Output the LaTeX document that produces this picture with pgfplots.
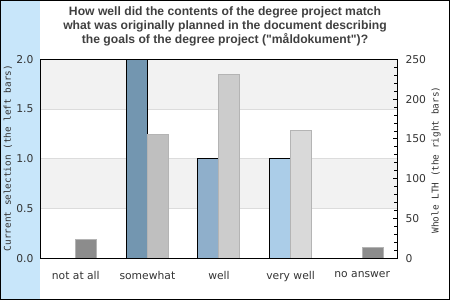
\documentclass[border=0pt]{standalone}
\usepackage{fontspec}
\usepackage{pgfplots}
\pgfplotsset{compat=1.18}
\setmainfont{DejaVu Sans}
\newfontfamily\dmono{DejaVu Sans Mono}
\newfontfamily\lsans{Liberation Sans}
\definecolor{strip}{HTML}{C8E6FA}
\definecolor{band}{HTML}{F2F2F2}
\definecolor{gridc}{HTML}{DCDCDC}
\definecolor{bA}{HTML}{7396B0}
\definecolor{bB}{HTML}{8FAFCB}
\definecolor{bC}{HTML}{ABCDE8}
\definecolor{gA}{HTML}{8C8C8C}
\definecolor{gB}{HTML}{BFBFBF}
\definecolor{gC}{HTML}{CCCCCC}
\definecolor{gD}{HTML}{D9D9D9}
\definecolor{gedge}{HTML}{B4B4B4}
\definecolor{titlec}{HTML}{404040}
\definecolor{labc}{HTML}{333333}
\begin{document}
\begin{tikzpicture}
% axis box: south west at (0,0), 358bp x 199bp; picture from (-40,-41.7) to (410,258.3)
\useasboundingbox (-40bp,-41.7bp) rectangle (410bp,258.3bp);
\fill[strip] (-40bp,-41.7bp) rectangle (0bp,258.3bp);
\draw[line width=1bp] (-39.5bp,-41.2bp) rectangle (409.5bp,257.8bp);
\node[align=center, font=\lsans\bfseries\fontsize{12.2}{14}\selectfont, text=titlec] at (185bp,231.8bp)
  {How well did the contents of the degree project match\\what was originally planned in the document describing\\the goals of the degree project ("måldokument")?};
\node[rotate=90, font=\dmono\fontsize{9.4}{11}\selectfont, text=labc] at (-32bp,100.3bp) {Current selection (the left bars)};
\node[rotate=90, font=\dmono\fontsize{9.4}{11}\selectfont, text=labc] at (396bp,98.3bp) {Whole LTH (the right bars)};
% left axis
\begin{axis}[
  at={(0bp,0bp)}, anchor=south west,
  scale only axis, width=358bp, height=199bp,
  xmin=-0.5, xmax=4.5, ymin=0, ymax=2,
  xtick={0,1,2,3,4},
  xticklabels={not at all,somewhat,well,very well,no answer},
  ytick={0,0.5,1,1.5,2},
  axis line style={draw=none},
  major tick length=0pt,
  tick style={draw=none},
  ticklabel style={font=\fontsize{10.8}{12}\selectfont, text=labc},
  xticklabel style={yshift=-10bp},
  yticklabel style={xshift=-3bp,/pgf/number format/.cd, fixed, fixed zerofill, precision=1, assume math mode=true},
  clip=false,
]
\fill[band] (axis cs:-0.5,1.5) rectangle (axis cs:4.5,2);
\fill[band] (axis cs:-0.5,0.5) rectangle (axis cs:4.5,1);
\draw[gridc, line width=1bp] (axis cs:-0.5,0.5) -- (axis cs:4.5,0.5);
\draw[gridc, line width=1bp] (axis cs:-0.5,1) -- (axis cs:4.5,1);
\draw[gridc, line width=1bp] (axis cs:-0.5,1.5) -- (axis cs:4.5,1.5);
\addplot[ybar, bar width=21bp, bar shift=-10.5bp, fill=bA, draw=black, line width=1bp] coordinates {(1,2)};
\addplot[ybar, bar width=21bp, bar shift=-10.5bp, fill=bB, draw=black, line width=1bp] coordinates {(2,1)};
\addplot[ybar, bar width=21bp, bar shift=-10.5bp, fill=bC, draw=black, line width=1bp] coordinates {(3,1)};
\end{axis}
% right axis
\begin{axis}[
  at={(0bp,0bp)}, anchor=south west,
  scale only axis, width=358bp, height=199bp,
  xmin=-0.5, xmax=4.5, ymin=0, ymax=250,
  xtick=\empty,
  ytick={0,50,100,150,200,250},
  minor ytick={10,20,30,40,60,70,80,90,110,120,130,140,160,170,180,190,210,220,230,240},
  ytick pos=right, yticklabel pos=right,
  tick align=inside,
  major tick length=5bp, minor tick length=3.5bp,
  tick style={black, line width=0.8bp},
  axis line style={black, line width=1bp},
  axis on top,
  ticklabel style={font=\fontsize{10.8}{12}\selectfont, text=labc},
  yticklabel style={xshift=4bp, /pgf/number format/assume math mode=true},
]
\addplot[ybar, bar width=21bp, bar shift=10.5bp, fill=gA, draw=gedge, line width=1bp] coordinates {(0,24)};
\addplot[ybar, bar width=21bp, bar shift=10.5bp, fill=gB, draw=gedge, line width=1bp] coordinates {(1,155)};
\addplot[ybar, bar width=21bp, bar shift=10.5bp, fill=gC, draw=gedge, line width=1bp] coordinates {(2,231)};
\addplot[ybar, bar width=21bp, bar shift=10.5bp, fill=gD, draw=gedge, line width=1bp] coordinates {(3,161)};
\addplot[ybar, bar width=21bp, bar shift=10.5bp, fill=gA, draw=gedge, line width=1bp] coordinates {(4,13)};
\end{axis}
\end{tikzpicture}
\end{document}
